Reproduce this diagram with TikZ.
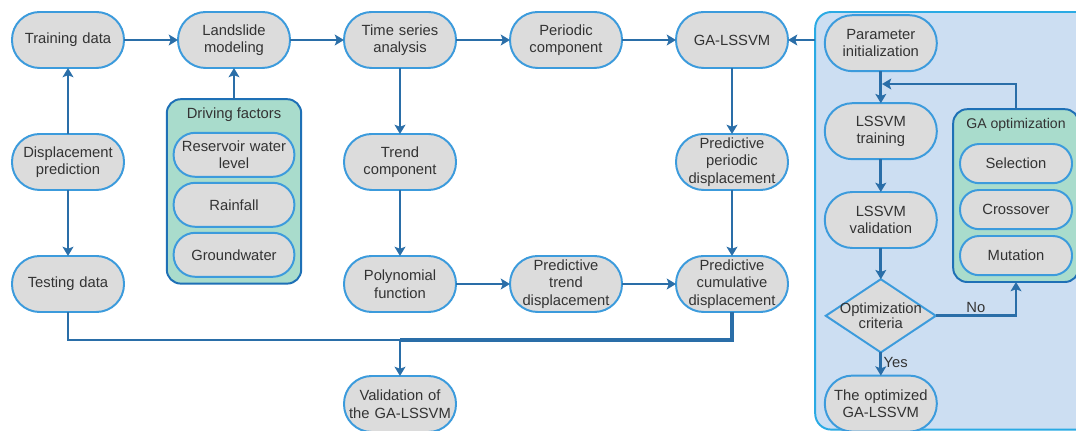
\documentclass[tikz,border=0pt]{standalone}
\usepackage{fontspec}
\setmainfont{Liberation Sans}
\usetikzlibrary{shapes.geometric, arrows.meta, positioning, fit, backgrounds, calc}
\definecolor{pillfill}{HTML}{DCDCDC}
\definecolor{pilledge}{HTML}{3C9BDC}
\definecolor{flowblue}{HTML}{2A6EA8}
\definecolor{grpfill}{HTML}{A9DCCC}
\definecolor{grpedge}{HTML}{1E70B6}
\definecolor{panelfill}{HTML}{CCDEF2}
\definecolor{paneledge}{HTML}{2AAAE4}
\definecolor{ink}{HTML}{333333}
\tikzset{
  pill/.style={rectangle, rounded corners=0.69cm, draw=pilledge, fill=pillfill, line width=1.4pt,
    minimum width=2.8cm, minimum height=1.4cm, text width=2.7cm, inner sep=0.05cm, outer sep=0pt,
    align=center, text=ink, font=\fontsize{10.5}{12.5}\selectfont},
  subpill/.style={pill, rounded corners=0.54cm, minimum width=3.02cm, minimum height=1.1cm, text width=2.92cm},
  gapill/.style={pill, rounded corners=0.48cm, minimum width=2.78cm, minimum height=0.98cm, text width=2.7cm},
  dec/.style={diamond, draw=pilledge, fill=pillfill, line width=1.4pt, minimum width=2.75cm,
    minimum height=1.83cm, inner sep=0pt, outer sep=0pt, align=center, text=ink,
    font=\fontsize{10.5}{11}\selectfont},
  grptitle/.style={inner sep=0pt, outer sep=0pt, minimum height=0.45cm, text=ink,
    font=\fontsize{10.5}{12.5}\selectfont},
  grpbox/.style={rectangle, rounded corners=0.35cm, draw=grpedge, fill=grpfill, line width=1.4pt,
    inner sep=0.17cm, outer sep=0pt},
  panel/.style={rectangle, rounded corners=0.4cm, draw=paneledge, fill=panelfill, line width=1.4pt,
    inner sep=0pt, outer sep=0pt},
  link/.style={-{Stealth[length=2.3mm, width=2.7mm, inset=0.5mm]}, draw=flowblue, line width=2.1pt},
  wire/.style={draw=flowblue, line width=2.1pt},
  tag/.style={text=ink, font=\fontsize{10.5}{12.5}\selectfont, inner sep=1pt}
}
\begin{document}
\begin{tikzpicture}[node distance=1.65cm and 1.35cm]
  \useasboundingbox (0,0) rectangle (26.9,-10.775);

  % main flow
  \node[pill] (train) at (1.7,-1.0) {Training data};
  \node[pill, right=of train] (model) {Landslide\\modeling};
  \node[pill, right=of model] (tsa) {Time series\\analysis};
  \node[pill, right=of tsa] (period) {Periodic\\component};
  \node[pill, right=of period] (galssvm) {GA-LSSVM};
  \node[pill, below=of train] (dispred) {Displacement\\prediction};
  \node[pill, below=of dispred] (test) {Testing data};
  \node[pill, below=of tsa] (trend) {Trend\\component};
  \node[pill, below=of trend] (poly) {Polynomial\\function};
  \node[pill, right=of poly] (ptrend) {Predictive\\trend\\displacement};
  \node[pill, right=of ptrend] (pcum) {Predictive\\cumulative\\displacement};
  \node[pill, below=of galssvm] (pperiod) {Predictive\\periodic\\displacement};
  \node[pill, below=1.6cm of poly] (valid) {Validation of\\the GA-LSSVM};

  % driving factors
  \node[grptitle, below=0.95cm of model] (drvtitle) {Driving factors};
  \node[subpill, below=0.22cm of drvtitle] (reservoir) {Reservoir water\\level};
  \node[subpill, below=0.15cm of reservoir] (rain) {Rainfall};
  \node[subpill, below=0.15cm of rain] (ground) {Groundwater};

  % GA-LSSVM panel
  \node[pill, right=0.92cm of galssvm, yshift=-0.08cm] (param) {Parameter\\initialization};
  \node[pill, below=0.8cm of param] (lstrain) {LSSVM\\training};
  \node[pill, below=0.82cm of lstrain] (lsval) {LSSVM\\validation};
  \node[dec, below=0.78cm of lsval] (crit) {\makebox[0pt]{Optimization}\\\makebox[0pt]{criteria}};
  \node[pill, below=0.58cm of crit] (optim) {The optimized\\GA-LSSVM};

  \node[gapill, right=0.58cm of lstrain, yshift=-0.81cm] (select) {Selection};
  \node[grptitle, above=0.25cm of select, font=\fontsize{10}{12}\selectfont] (gatitle) {GA optimization};
  \node[gapill, below=0.17cm of select] (cross) {Crossover};
  \node[gapill, below=0.17cm of cross] (mutate) {Mutation};

  \coordinate (pnltl) at (20.38,-0.3);
  \coordinate (pnlbr) at (27.3,-10.74);

  \begin{scope}[on background layer]
    \node[panel, fit=(pnltl)(pnlbr)] (panel) {};
    \node[grpbox, fit=(drvtitle)(reservoir)(ground)] (drvgrp) {};
    \node[grpbox, fit=(gatitle)(select)(mutate)] (gagrp) {};
  \end{scope}

  \draw[link] (train) -- (model);
  \draw[link] (model) -- (tsa);
  \draw[link] (tsa) -- (period);
  \draw[link] (period) -- (galssvm);
  \draw[link] (dispred) -- (train);
  \draw[link] (dispred) -- (test);
  \draw[link] (drvgrp) -- (model);
  \draw[link] (tsa) -- (trend);
  \draw[link] (trend) -- (poly);
  \draw[link] (poly) -- (ptrend);
  \draw[link] (ptrend) -- (pcum);
  \draw[link] (galssvm) -- (pperiod);
  \draw[link] (pperiod) -- (pcum);

  \coordinate[above=0.9cm of valid.north] (joint);
  \draw[wire] (test.south) |- (joint);
  \draw[wire, line width=2.8pt] (pcum.south) |- (joint);
  \draw[link] (joint) -- (valid);

  \draw[link] (galssvm.east -| panel.west) -- (galssvm.east);
  \draw[link] (param) -- (lstrain);
  \draw[link] (lstrain) -- (lsval);
  \draw[link] (lsval) -- (crit);
  \draw[link] (crit) -- node[tag, right, pos=0.45] {Yes} (optim);
  \draw[link] (crit.east) -| node[tag, above, pos=0.25] {No} (gagrp.south);
  \coordinate (loopin) at ($(param.south)!0.4!(lstrain.north)$);
  \draw[link, shorten >=0.03cm] (gagrp.north) |- (loopin);
\end{tikzpicture}
\end{document}
